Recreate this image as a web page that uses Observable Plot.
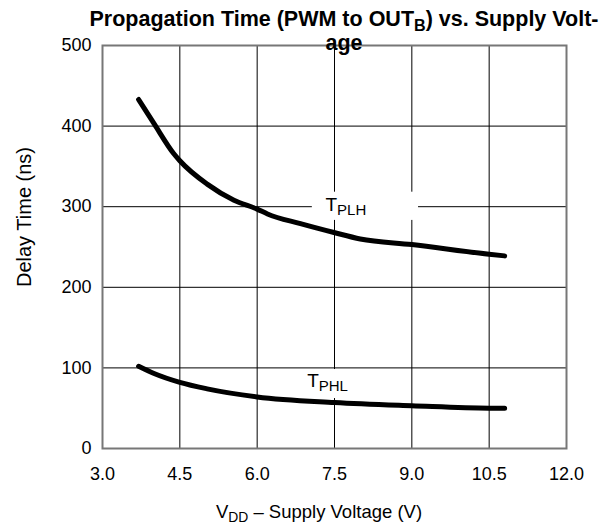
<!DOCTYPE html>
<html>
<head>
<meta charset="utf-8">
<script src="https://cdn.jsdelivr.net/npm/d3@7"></script>
<script src="https://cdn.jsdelivr.net/npm/@observablehq/plot@0.6"></script>
<style>
  html, body { margin: 0; padding: 0; background: white; }
  #wrap { position: relative; width: 600px; height: 524px; font-family: "Liberation Sans", Arial, Helvetica, sans-serif; color: black; }
  #title { position: absolute; left: 344px; top: 7px; transform: translateX(-50%); font-weight: bold; font-size: 21.5px; line-height: 24px; text-align: center; white-space: nowrap; }
  .sub { font-size: 75%; position: relative; top: 0.3em; line-height: 0; }
  #ylab { position: absolute; left: 24px; top: 217px; transform: translate(-50%, -50%) rotate(-90deg); font-size: 20px; white-space: nowrap; }
  #xlab { position: absolute; left: 319px; top: 502px; transform: translateX(-50%); font-size: 18.5px; line-height: 20px; white-space: nowrap; }
  svg { display: block; }
</style>
</head>
<body>
<div id="wrap">
  <div id="chart"></div>
  <div id="title">Propagation Time (PWM to OUT<span class="sub">B</span>) vs. Supply Volt-<br>age</div>
  <div id="ylab">Delay Time (ns)</div>
  <div id="xlab">V<span class="sub">DD</span> – Supply Voltage (V)</div>
</div>
<script>
// Data
const tplhVdd   = [3.70, 4.0, 4.38, 4.5, 5.03, 5.55, 6.0, 6.2, 6.84, 7.49, 8.0, 9.0, 10.5, 10.8];
const tplhDelay = [433, 403, 366, 357, 328, 308, 297, 291, 279, 268, 260, 253, 241, 239];
const tphlVdd   = [3.70, 4.0, 4.5, 5.03, 6.0, 7.5, 9.0, 10.5, 10.8];
const tphlDelay = [102, 93, 82, 74, 64, 57, 53, 50, 50];
const xTicks = [3.0, 4.5, 6.0, 7.5, 9.0, 10.5, 12.0];
const yTicks = [0, 100, 200, 300, 400, 500];
const labelText = ["T_PLH", "T_PHL"];
const labelVdd = [7.325, 6.97];
const labelDelay = [302, 83.7];
const boxVdd1 = [7.07, 6.84];
const boxVdd2 = [9.13, 7.91];
const boxDelay1 = [283, 62];
const boxDelay2 = [318, 98];

const tplh = tplhVdd.map((v, i) => ({v, d: tplhDelay[i]}));
const tphl = tphlVdd.map((v, i) => ({v, d: tphlDelay[i]}));
const labels = labelText.map((t, i) => ({t, v: labelVdd[i], d: labelDelay[i]}));
const boxes = boxVdd1.map((v, i) => ({x1: v, x2: boxVdd2[i], y1: boxDelay1[i], y2: boxDelay2[i]}));

const chart = Plot.plot({
  width: 600,
  height: 524,
  marginTop: 45,
  marginLeft: 102,
  marginRight: 34,
  marginBottom: 76,
  style: { fontFamily: "Liberation Sans, Arial, Helvetica, sans-serif", fontSize: "18px", background: "white", color: "black" },
  x: { domain: [3, 12] },
  y: { domain: [0, 500] },
  marks: [
    Plot.gridX(xTicks, { stroke: "black", strokeOpacity: 1, strokeWidth: 1 }),
    Plot.gridY(yTicks, { stroke: "black", strokeOpacity: 1, strokeWidth: 1 }),
    Plot.rect(boxes, { x1: "x1", x2: "x2", y1: "y1", y2: "y2", fill: "white" }),
    Plot.frame({ stroke: "#777", strokeWidth: 2 }),
    Plot.axisX({ ticks: xTicks, tickSize: 0, tickPadding: 19, tickFormat: d => d.toFixed(1), label: null, fontSize: 18 }),
    Plot.axisY({ ticks: yTicks, tickSize: 0, tickPadding: 11, label: null, fontSize: 18 }),
    Plot.line(tplh, { x: "v", y: "d", stroke: "black", strokeWidth: 5, curve: "monotone-x", strokeLinecap: "round", strokeLinejoin: "round" }),
    Plot.line(tphl, { x: "v", y: "d", stroke: "black", strokeWidth: 5, curve: "monotone-x", strokeLinecap: "round", strokeLinejoin: "round" }),
    Plot.text(labels, { x: "v", y: "d", text: "t", textAnchor: "start", fontSize: 19, fill: "black" })
  ]
});

d3.select(chart).selectAll("text").filter(function () { return this.textContent.includes("_"); })
  .each(function () {
    const [main, sub] = this.textContent.split("_");
    const sel = d3.select(this);
    sel.text(null);
    sel.append("tspan").text(main);
    sel.append("tspan").attr("dy", "0.28em").attr("font-size", "15px").text(sub);
  });

document.getElementById("chart").appendChild(chart);
</script>
</body>
</html>
